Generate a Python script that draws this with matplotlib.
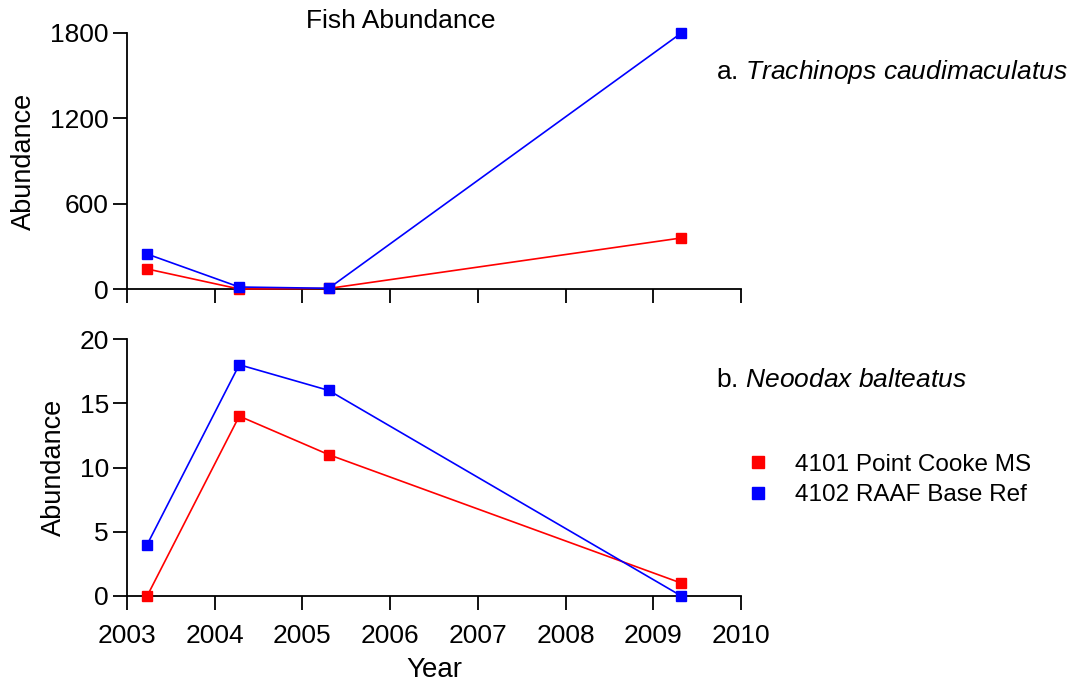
import matplotlib
matplotlib.use("Agg")
import matplotlib.pyplot as plt
from matplotlib.lines import Line2D

plt.rcParams['font.family'] = ['Liberation Sans', 'DejaVu Sans']
plt.rcParams['mathtext.fontset'] = 'custom'
plt.rcParams['mathtext.rm'] = 'Liberation Sans'
plt.rcParams['mathtext.it'] = 'Liberation Sans:italic'

# survey dates (decimal years)
years = [2003.23, 2004.28, 2005.30, 2009.32]

# a. Trachinops caudimaculatus
trach_cooke = [141, 0, 4, 359]
trach_raaf = [246, 14, 5, 1800]

# b. Neoodax balteatus
neo_cooke = [0, 14, 11, 1]
neo_raaf = [4, 18, 16, 0]

site_names = ["4101 Point Cooke MS", "4102 RAAF Base Ref"]
site_cols = ["#ff0000", "#0000ff"]

xticks = list(range(2003, 2011))

fig = plt.figure(figsize=(10.76, 6.86), dpi=100)
ax1 = fig.add_axes([0.118, 0.5787, 0.5707, 0.3732])
ax2 = fig.add_axes([0.118, 0.1312, 0.5707, 0.3746])

def style_ax(ax, ymax, yticks, labels):
    for s in ['top', 'right']:
        ax.spines[s].set_visible(False)
    for s in ['left', 'bottom']:
        ax.spines[s].set_linewidth(1.3)
    ax.set_xlim(2003, 2010)
    ax.set_ylim(0, ymax)
    ax.set_xticks(xticks)
    ax.set_yticks(yticks)
    ax.tick_params(direction='out', length=10, width=1.3, labelsize=19)
    ax.tick_params(axis='y', pad=3)
    ax.tick_params(axis='x', pad=10)
    if not labels:
        ax.set_xticklabels([])
    ax.set_ylabel("Abundance", fontsize=19.5)
    for sp in ax.spines.values():
        sp.set_clip_on(False)

for ax, a, b in [(ax1, trach_cooke, trach_raaf), (ax2, neo_cooke, neo_raaf)]:
    ax.plot(years, a, '-s', color=site_cols[0], lw=1.2, ms=7, clip_on=False, zorder=3)
    ax.plot(years, b, '-s', color=site_cols[1], lw=1.2, ms=7, clip_on=False, zorder=4)

style_ax(ax1, 1800, [0, 600, 1200, 1800], False)
style_ax(ax2, 20, [0, 5, 10, 15, 20], True)
ax2.set_xlabel("Year", fontsize=20, labelpad=7)
ax1.yaxis.set_label_coords(-0.147, 0.5)
ax2.yaxis.set_label_coords(-0.097, 0.5)

fig.text(0.372, 0.970, "Fish Abundance", fontsize=19, ha='center', va='center')
fig.text(0.665, 0.895, r"a. $\mathit{Trachinops\ caudimaculatus}$", fontsize=19, va='center')
fig.text(0.665, 0.446, r"b. $\mathit{Neoodax\ balteatus}$", fontsize=19, va='center')

handles = [Line2D([], [], ls='none', marker='s', color=c, ms=8) for c in site_cols]
fig.legend(handles, site_names, loc='center left', bbox_to_anchor=(0.667, 0.300),
           frameon=False, fontsize=17.5, handletextpad=0.8, labelspacing=0.35,
           handlelength=1.5)

fig.savefig("out.png", dpi=100)
